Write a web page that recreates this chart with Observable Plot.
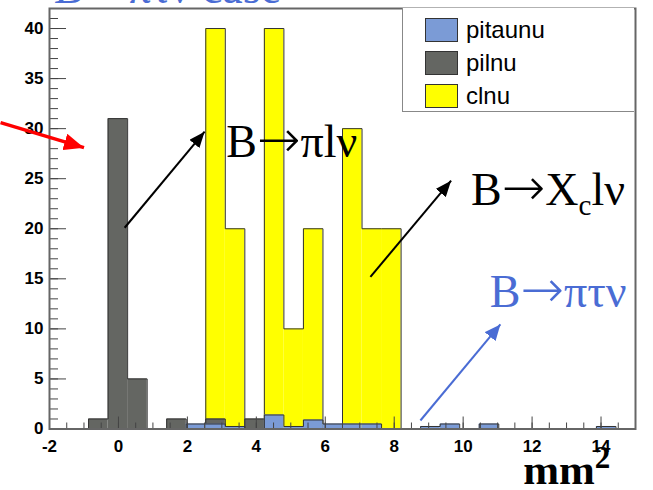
<!DOCTYPE html>
<html><head><meta charset="utf-8">
<script src="https://cdn.jsdelivr.net/npm/d3@7"></script>
<script src="https://cdn.jsdelivr.net/npm/@observablehq/plot@0.6"></script>
<style>
html,body{margin:0;padding:0;background:#fff;}
#wrap{position:relative;width:653px;height:490px;overflow:hidden;background:#fff;}
#legend{position:absolute;left:402px;top:8px;width:232px;height:104px;background:#fff;border-left:1px solid #888;border-bottom:1px solid #888;box-sizing:border-box;font-family:"Liberation Sans",Arial,sans-serif;font-size:24px;color:#000;}
.row{position:absolute;left:22px;height:24px;display:flex;align-items:center;white-space:nowrap;}
.sw{width:33px;height:24px;box-sizing:border-box;border:1px solid #333;margin-right:8px;flex:none;}
</style></head>
<body><div id="wrap"></div>
<script>
// Histogram definition (like a ROOT TH1: 30 bins over [-2, 15])
const xMin = -2, xMax = 15, nBins = 30;
const yMax = 42;
const seriesNames = ["pitaunu", "pilnu", "clnu"];
const seriesColors = ["#7b9bd6", "#646662", "#ffff00"];
// bin contents (bin 0 .. 29)
const clnu    = [0,0,0,0,0,0,0,0,40,20,0,40,10,20,0,30,20,20,0,0,0,0,0,0,0,0,0,0,0,0];
const pilnu   = [0,0,1,31,5,0,1,0,1,0,1,0,0,0,0,0,0,0,0,0,0,0,0,0,0,0,0,0,0,0];
const pitaunu = [0,0,0,0,0,0,0,0.5,0.5,0.25,0,1.4,0.25,0.9,0.5,0.5,0.5,0,0,0.25,0.5,0,0.5,0,0,0,0,0,0.25,0];
// axis ticks
const xMajor = [-2,0,2,4,6,8,10,12,14];
const yMajor = [0,5,10,15,20,25,30,35,40];
const xMinor = d3.range(-2, 15.001, 0.5);
const yMinor = d3.range(0, 42.001, 1);
// annotations (data coordinates)
const arrows = [
  {x1:-3.42, y1:30.6, x2:-1.0, y2:28.1, color:"#ff0000", w:3.5, len:20, wid:17},
  {x1:0.18, y1:20.1, x2:2.5, y2:29.7, color:"#000000", w:2, len:16, wid:13},
  {x1:7.31, y1:15.2, x2:9.65, y2:24.8, color:"#000000", w:2, len:16, wid:13},
  {x1:8.76, y1:0.85, x2:11.08, y2:10.45, color:"#4a6cd4", w:2, len:16, wid:14}
];
const labels = [
  {x:3.13, y:27.2, text:"B→πlν", color:"#000000"},
  {x:10.23, y:22.35, text:"B→Xclν", color:"#000000"},
  {x:10.77, y:12.2, text:"B→πτν", color:"#4a6cd4"},
  {x:-1.88, y:42.55, text:"B→πτν case", color:"#4a6cd4"}
];
const axisTitle = {x:11.74, y:-5.45, text:"mm2"};

const binW = (xMax - xMin) / nBins;
function toBins(counts) {
  return counts.map((v, i) => ({x1: xMin + i * binW, x2: xMin + (i + 1) * binW, v})).filter(d => d.v > 0);
}
function outline(counts) {
  const pts = []; let run = -1;
  counts.forEach((v, i) => {
    const a = xMin + i * binW, b = a + binW;
    if (v > 0) {
      if (!(counts[i - 1] > 0)) { run++; pts.push({x: a, y: 0, run}); }
      pts.push({x: a, y: v, run}, {x: b, y: v, run});
      if (!(counts[i + 1] > 0)) pts.push({x: b, y: 0, run});
    }
  });
  return pts;
}
function headMarker(len, wid) {
  return (color) => {
    const ns = "http://www.w3.org/2000/svg";
    const m = document.createElementNS(ns, "marker");
    m.setAttribute("viewBox", `0 ${-wid / 2} ${len} ${wid}`);
    m.setAttribute("markerWidth", len);
    m.setAttribute("markerHeight", wid);
    m.setAttribute("markerUnits", "userSpaceOnUse");
    m.setAttribute("orient", "auto");
    m.setAttribute("refX", len);
    m.setAttribute("refY", 0);
    const p = document.createElementNS(ns, "path");
    p.setAttribute("d", `M0,${-wid / 2}L${len},0L0,${wid / 2}Z`);
    p.setAttribute("fill", color);
    p.setAttribute("stroke", "none");
    m.appendChild(p);
    return m;
  };
}

const series = [
  {counts: clnu, color: seriesColors[2]},
  {counts: pilnu, color: seriesColors[1]},
  {counts: pitaunu, color: seriesColors[0]}
];
const marks = [];
for (const s of series) {
  marks.push(Plot.rect(toBins(s.counts), {x1: "x1", x2: "x2", y1: 0, y2: "v", fill: s.color}));
  marks.push(Plot.line(outline(s.counts), {x: "x", y: "y", z: "run", stroke: "#333", strokeWidth: 1}));
}
const tickFont = {fontFamily: "'Liberation Sans', Arial, sans-serif", fontSize: 17, fontWeight: "bold"};
marks.push(
  Plot.axisY({ticks: yMinor, anchor: "left", tickSize: -9, fill: "none", stroke: "#444", label: null}),
  Plot.axisY({ticks: yMajor, anchor: "left", tickSize: -17, tickPadding: 23, tickFormat: d => String(d), stroke: "#444", fill: "#000", label: null, ...tickFont}),
  Plot.axisX({ticks: xMinor, anchor: "bottom", tickSize: -6, fill: "none", stroke: "#444", label: null}),
  Plot.axisX({ticks: xMajor, anchor: "bottom", tickSize: -12, tickPadding: 23, tickFormat: d => String(d), stroke: "#444", fill: "#000", label: null, ...tickFont}),
  Plot.frame({stroke: "#666", strokeWidth: 2})
);
for (const a of arrows) {
  marks.push(Plot.link([a], {x1: "x1", y1: "y1", x2: "x2", y2: "y2", stroke: a.color, strokeWidth: a.w, markerEnd: headMarker(a.len, a.wid)}));
}
marks.push(Plot.text(labels, {x: "x", y: "y", text: "text", fill: "color", textAnchor: "start", lineAnchor: "bottom", fontFamily: "'Liberation Serif', 'Times New Roman', serif", fontSize: 46}));
marks.push(Plot.text([axisTitle], {x: "x", y: "y", text: "text", fill: "#000", textAnchor: "start", lineAnchor: "bottom", fontFamily: "'Liberation Serif', 'Times New Roman', serif", fontSize: 43, fontWeight: "bold"}));

const chart = Plot.plot({
  width: 653, height: 490,
  marginTop: 8, marginRight: 18, marginBottom: 61.5, marginLeft: 49,
  x: {domain: [xMin, xMax], label: null},
  y: {domain: [0, yMax], label: null},
  style: {background: "transparent"},
  marks
});

// rebuild annotation texts with tspans: symbol-style arrow, subscript c, superscript 2
const ns = "http://www.w3.org/2000/svg";
function rebuild(t, segs) {
  t.textContent = "";
  for (const s of segs) {
    if (!s.attrs) { t.appendChild(document.createTextNode(s.t)); continue; }
    const sp = document.createElementNS(ns, "tspan");
    for (const [k, v] of Object.entries(s.attrs)) sp.setAttribute(k, v);
    sp.textContent = s.t;
    t.appendChild(sp);
  }
}
const arrowAttrs = {"font-family": "'DejaVu Sans', sans-serif", "font-weight": "200", "font-size": "52"};
chart.querySelectorAll("text").forEach(t => {
  const s = t.textContent;
  if (s === "B→Xclν") {
    rebuild(t, [{t: "B"}, {t: "→", attrs: arrowAttrs}, {t: "X", attrs: {}}, {t: "c", attrs: {dy: "10", "font-size": "29"}}, {t: "lν", attrs: {dy: "-10"}}]);
  } else if (s === "mm2") {
    rebuild(t, [{t: "mm"}, {t: "2", attrs: {dy: "-16", "font-size": "31"}}]);
  } else if (s.includes("→")) {
    const [a, b] = s.split("→");
    rebuild(t, [{t: a}, {t: "→", attrs: arrowAttrs}, {t: b, attrs: {}}]);
  }
});
const wrap = document.getElementById("wrap");
wrap.appendChild(chart);

// legend
const legend = document.createElement("div");
legend.id = "legend";
const rowTops = [10, 43, 76];
seriesNames.forEach((name, i) => {
  const row = document.createElement("div");
  row.className = "row";
  row.style.top = rowTops[i] + "px";
  const sw = document.createElement("div");
  sw.className = "sw"; sw.style.background = seriesColors[i];
  const label = document.createElement("span");
  label.textContent = name;
  row.appendChild(sw); row.appendChild(label);
  legend.appendChild(row);
});
wrap.appendChild(legend);
</script>
</body></html>
